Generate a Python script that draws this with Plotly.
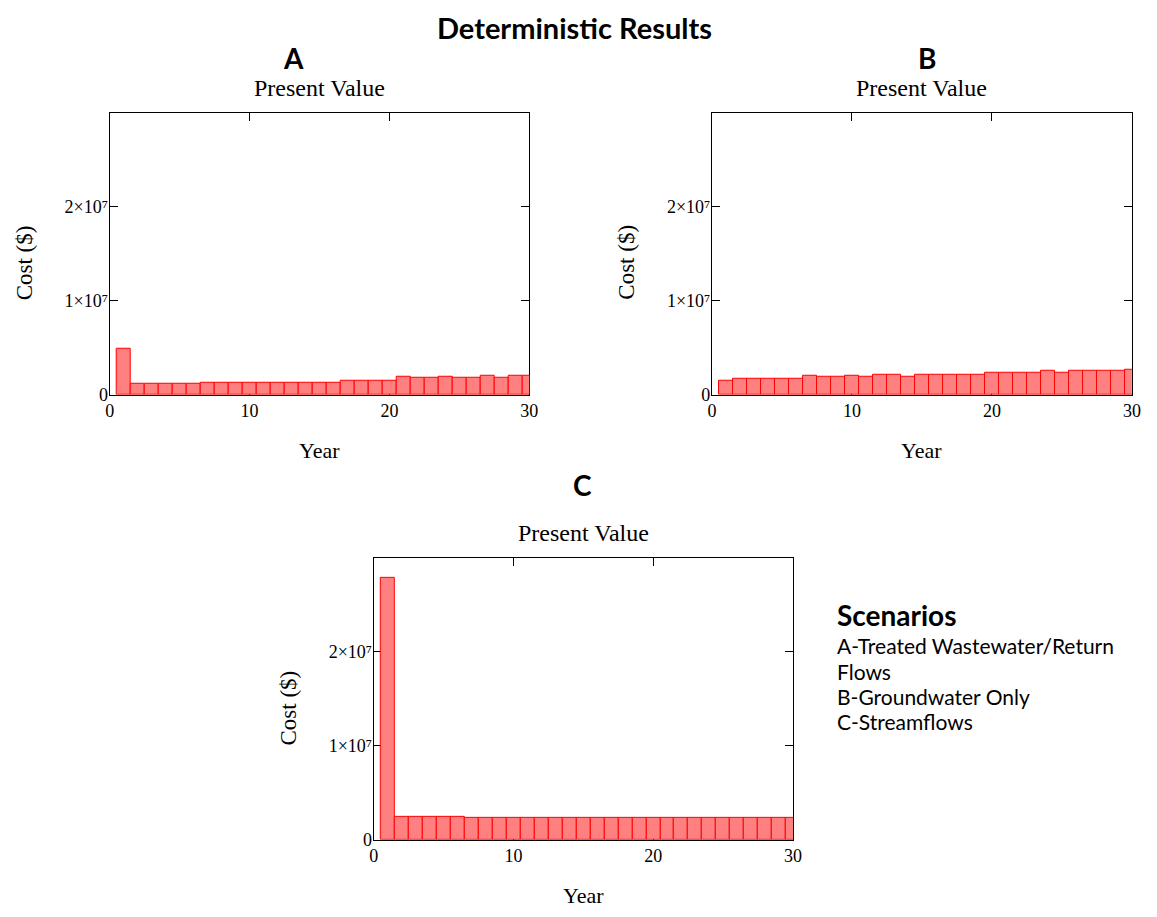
import plotly.graph_objects as go

W, H = 1157, 917

years = list(range(1, 31))

cost_a = [4.88e6, 1.12e6, 1.12e6, 1.12e6, 1.12e6, 1.12e6,
          1.30e6, 1.30e6, 1.30e6, 1.30e6, 1.30e6, 1.30e6, 1.30e6, 1.30e6, 1.30e6, 1.30e6,
          1.43e6, 1.43e6, 1.43e6, 1.43e6,
          1.86e6, 1.75e6, 1.75e6, 1.86e6, 1.75e6, 1.75e6, 2.00e6, 1.75e6, 2.00e6, 2.00e6]

cost_b = [1.43e6, 1.72e6, 1.72e6, 1.72e6, 1.72e6, 1.72e6,
          2.00e6, 1.86e6, 1.86e6, 2.00e6, 1.86e6, 2.14e6, 2.14e6, 1.86e6,
          2.14e6, 2.14e6, 2.14e6, 2.14e6, 2.14e6,
          2.28e6, 2.28e6, 2.28e6, 2.28e6, 2.56e6, 2.28e6,
          2.56e6, 2.56e6, 2.56e6, 2.56e6, 2.70e6]

cost_c = [2.79e7, 2.49e6, 2.49e6, 2.49e6, 2.49e6, 2.49e6,
          2.35e6, 2.35e6, 2.35e6, 2.35e6, 2.35e6, 2.35e6, 2.35e6, 2.35e6,
          2.35e6, 2.35e6, 2.35e6, 2.35e6, 2.35e6, 2.35e6, 2.35e6, 2.35e6,
          2.35e6, 2.35e6, 2.35e6, 2.35e6, 2.35e6, 2.35e6, 2.35e6, 2.35e6]

x_ticks = [0, 10, 20, 30]
y_ticks = [0, 1e7, 2e7]
y_tick_text = ["0", "1×10⁷", "2×10⁷"]

panel_letters = ["A", "B", "C"]
subplot_title = "Present Value"
x_title = "Year"
y_title = "Cost ($)"
main_title = "Deterministic Results"
legend_title = "Scenarios"
legend_lines = ["A-Treated Wastewater/Return", "Flows", "B-Groundwater Only", "C-Streamflows"]


def fx(px):
    return px / W


def fy(py):
    return 1 - py / H


# panel pixel boxes: (left, right, top, bottom)
boxes = [(106, 530.7, 114, 399), (715.7, 1140.7, 114, 399), (373.3, 797.7, 564, 849)]

fig = go.Figure()
series = [cost_a, cost_b, cost_c]
for i, vals in enumerate(series):
    n = "" if i == 0 else str(i + 1)
    fig.add_trace(go.Bar(
        x=years, y=vals, width=1,
        marker=dict(color="#FF8080", line=dict(color="#FF0000", width=1)),
        xaxis="x" + n, yaxis="y" + n, showlegend=False,
    ))

serif = "Liberation Serif, Times New Roman, serif"
sans = "Lato, Open Sans, sans-serif"

axis_common = dict(
    showline=True, linecolor="black", linewidth=1.2, mirror="ticks",
    ticks="inside", ticklen=8, tickwidth=1.2, tickcolor="black",
    showgrid=False, zeroline=False, layer="below traces",
    tickfont=dict(family=serif, size=18, color="black"),
)

layout = dict(
    width=W, height=H, margin=dict(l=0, r=0, t=0, b=0),
    paper_bgcolor="white", plot_bgcolor="white", bargap=0, showlegend=False,
)

annotations = []
for i, (l, r, t, b) in enumerate(boxes):
    n = "" if i == 0 else str(i + 1)
    layout["xaxis" + n] = dict(
        axis_common, domain=[fx(l), fx(r)], range=[0, 30],
        tickvals=x_ticks, ticktext=[str(v) for v in x_ticks],
        anchor="y" + n,
    )
    layout["yaxis" + n] = dict(
        axis_common, domain=[fy(b), fy(t)], range=[0, 3e7],
        tickvals=y_ticks, ticktext=y_tick_text,
        anchor="x" + n, ticklabelstandoff=-3,
    )
    cx = (l + r) / 2
    cy = (t + b) / 2
    letter_y = 59 if i < 2 else 490
    letter_x = [292, 933, 585][i]
    annotations.append(dict(text="<b>%s</b>" % panel_letters[i], x=fx(letter_x), y=fy(letter_y),
                            xref="paper", yref="paper", showarrow=False,
                            xanchor="center", yanchor="middle",
                            font=dict(family=sans, size=28, color="black")))
    annotations.append(dict(text=subplot_title, x=fx(cx), y=fy(t - 25),
                            xref="paper", yref="paper", showarrow=False,
                            xanchor="center", yanchor="middle",
                            font=dict(family=serif, size=24, color="black")))
    annotations.append(dict(text=x_title, x=fx(cx), y=fy(b + 56),
                            xref="paper", yref="paper", showarrow=False,
                            xanchor="center", yanchor="middle",
                            font=dict(family=serif, size=22, color="black")))
    annotations.append(dict(text=y_title, x=fx(l - 86), y=fy(cy + 9),
                            xref="paper", yref="paper", showarrow=False, textangle=-90,
                            xanchor="center", yanchor="middle",
                            font=dict(family=serif, size=23, color="black")))

annotations.append(dict(text="<b>%s</b>" % main_title, x=fx(576), y=fy(28),
                        xref="paper", yref="paper", showarrow=False,
                        xanchor="center", yanchor="middle",
                        font=dict(family=sans, size=29, color="black")))
annotations.append(dict(text="<b>%s</b>" % legend_title, x=fx(840), y=fy(622),
                        xref="paper", yref="paper", showarrow=False,
                        xanchor="left", yanchor="middle",
                        font=dict(family=sans, size=28, color="black")))
for k, line in enumerate(legend_lines):
    annotations.append(dict(text=line, x=fx(840), y=fy(653 + 25.5 * k),
                            xref="paper", yref="paper", showarrow=False,
                            xanchor="left", yanchor="middle",
                            font=dict(family=sans, size=21, color="black")))

layout["annotations"] = annotations
fig.update_layout(**layout)
fig.write_html(
    "out.html",
    config={"displayModeBar": False},
    post_script=(
        "document.documentElement.style.margin='0px';"
        "document.documentElement.style.overflow='hidden';"
        "document.body.style.margin='0px';"
        "document.body.style.overflow='hidden';"
    ),
)
